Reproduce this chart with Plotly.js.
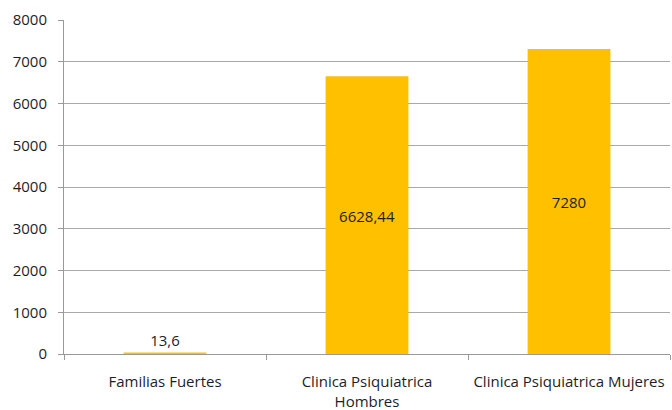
<!DOCTYPE html>
<html>
<head>
<meta charset="utf-8">
<script src="https://cdn.plot.ly/plotly-3.0.1.min.js"></script>
<style>html,body{margin:0;padding:0;background:#fff;}#chart{width:672px;height:410px;}</style>
</head>
<body>
<div id="chart"></div>
<script>
const categories = ["Familias Fuertes", "Clinica Psiquiatrica<br>Hombres", "Clinica Psiquiatrica Mujeres"];
const values = [13.6, 6628.44, 7280];
const labelPositions = ["outside", "inside", "inside"];
const yTicks = [0, 1000, 2000, 3000, 4000, 5000, 6000, 7000, 8000];

const texts = values.map(v => String(v).replace('.', ','));
const FONT = 'Open Sans, Liberation Sans, sans-serif';

const trace = {
  type: 'bar',
  x: categories,
  y: values,
  text: texts,
  textposition: labelPositions,
  insidetextanchor: 'middle',
  textangle: 0,
  cliponaxis: false,
  constraintext: 'none',
  textfont: {family: FONT, size: 15, color: '#1e1e28'},
  marker: {color: '#FFC000', line: {width: 2, color: '#FFC000'}},
  hoverinfo: 'none'
};

const layout = {
  width: 672, height: 410,
  margin: {l: 64, r: 2, t: 20, b: 56},
  paper_bgcolor: '#fff', plot_bgcolor: '#fff',
  bargap: 0.6,
  showlegend: false,
  font: {family: FONT, size: 15, color: '#1e1e28'},
  xaxis: {
    type: 'category',
    automargin: false,
    showgrid: false,
    showline: true, linecolor: '#999', linewidth: 1,
    ticks: 'outside', tickson: 'boundaries', ticklen: 5, tickcolor: '#999',
    ticklabelstandoff: 14,
    tickfont: {family: FONT, size: 15, color: '#1e1e28'},
    zeroline: false
  },
  yaxis: {
    range: [0, 8000],
    automargin: false,
    tickvals: yTicks,
    ticktext: yTicks.map(String),
    showgrid: true, gridcolor: '#a8a8a8', gridwidth: 1,
    showline: true, linecolor: '#999', linewidth: 1,
    ticks: 'outside', ticklen: 5, tickcolor: '#999',
    ticklabelstandoff: 8,
    tickfont: {family: FONT, size: 15, color: '#1e1e28'},
    zeroline: false
  }
};

Plotly.newPlot('chart', [trace], layout, {staticPlot: true, displayModeBar: false});
</script>
</body>
</html>
